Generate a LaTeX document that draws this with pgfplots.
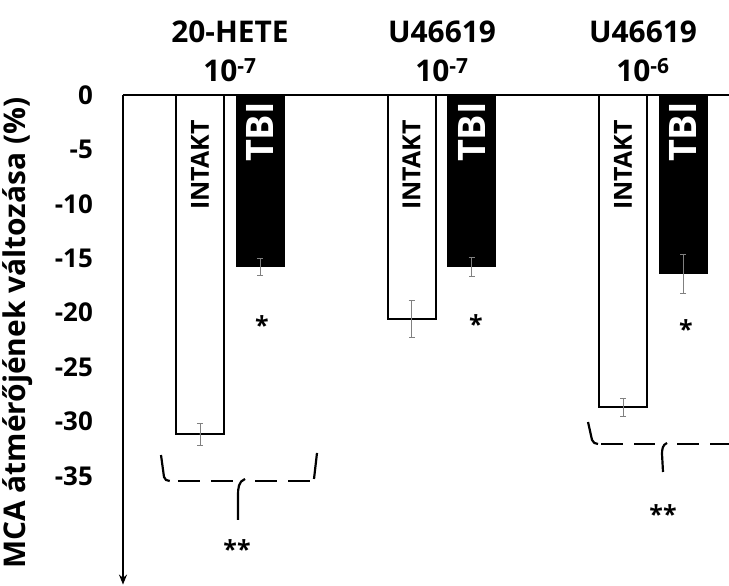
\documentclass[border=0pt]{standalone}
\usepackage{fontspec}
\setmainfont{Open Sans}
\usepackage{pgfplots}
\pgfplotsset{compat=1.18}
\usetikzlibrary{arrows.meta}
\begin{document}
\begin{tikzpicture}
\tikzset{ttl/.style={anchor=base, inner sep=0pt, font=\bfseries\fontsize{30}{30}\selectfont},
  intk/.style={rotate=90, inner sep=0pt, font=\bfseries\fontsize{25}{25}\selectfont},
  tbi/.style={rotate=90, inner sep=0pt, text=white, font=\bfseries\fontsize{38}{38}\selectfont},
  ast/.style={anchor=base, inner sep=0pt, font=\bfseries\fontsize{25}{25}\selectfont},
  brk/.style={line width=2.2pt},
  dsh/.style={line width=2.2pt, dash pattern=on 22bp off 11bp}}
\begin{axis}[
  scale only axis, width=606bp, height=489.6bp,
  xmin=-0.5059, xmax=2.3593, ymin=-45, ymax=0,
  ybar=12bp, bar width=48bp,
  axis line style={draw=none},
  xtick=\empty,
  ytick={0,-5,-10,-15,-20,-25,-30,-35},
  yticklabels={0,-5,-10,-15,-20,-25,-30,-35},
  major tick length=0pt,
  yticklabel style={font=\bfseries\fontsize{26}{26}\selectfont, anchor=east, inner sep=0pt, xshift=-30bp},
  clip=false,
  /pgf/number format/assume math mode=true,
]
\addplot[fill=white, draw=black, line width=2pt,
  error bars/.cd, y dir=both, y explicit,
  error bar style={draw=gray, line width=0.6pt},
  error mark options={rotate=90, mark size=3bp, draw=gray, line width=0.6pt}]
  coordinates {(0,-31.2) +- (0,1.0) (1,-20.6) +- (0,1.7) (2,-28.7) +- (0,0.8)};
\addplot[fill=black, draw=black, line width=1pt,
  error bars/.cd, y dir=both, y explicit,
  error bar style={draw=gray, line width=0.6pt},
  error mark options={rotate=90, mark size=3bp, draw=gray, line width=0.6pt}]
  coordinates {(0,-15.8) +- (0,0.8) (1,-15.8) +- (0,0.85) (2,-16.4) +- (0,1.8)};

\coordinate (bl) at (rel axis cs:0,0);
\coordinate (tr) at (rel axis cs:1,1);

% axis lines
\draw[line width=1.5pt] (axis cs:-0.5059,0) -- (axis cs:2.3593,0);
\draw[line width=1.5pt, -{Stealth[length=10bp,width=8bp]}] (axis cs:-0.5059,0) -- (axis cs:-0.5059,-45);

% titles
\node[ttl] at (axis cs:0,4.87) {20-HETE};
\node[ttl] at (axis cs:0,1.195) {10\textsuperscript{-7}};
\node[ttl] at (axis cs:1.0024,4.87) {U46619};
\node[ttl] at (axis cs:1.0024,1.195) {10\textsuperscript{-7}};
\node[ttl] at (axis cs:1.9527,4.87) {U46619};
\node[ttl] at (axis cs:1.9527,1.195) {10\textsuperscript{-6}};

% bar labels
\node[intk] at (axis cs:-0.1418,-6.43) {INTAKT};
\node[intk] at (axis cs:0.8582,-6.43) {INTAKT};
\node[intk] at (axis cs:1.8582,-6.43) {INTAKT};
\node[tbi] at (axis cs:0.1418,-3.40) {TBI};
\node[tbi] at (axis cs:1.1418,-3.40) {TBI};
\node[tbi] at (axis cs:2.1418,-3.40) {TBI};

% y label
\node[rotate=90, inner sep=0pt, font=\bfseries\fontsize{30}{30}\selectfont] at (axis cs:-1.0024,-21.9) {MCA átmérőjének változása (\%)};

% single asterisks
\node[ast] at (axis cs:0.1513,-22.0) {*};
\node[ast] at (axis cs:1.1631,-21.9) {*};
\node[ast] at (axis cs:2.156,-22.35) {*};
% double asterisks
\node[ast] at (axis cs:0.0331,-42.6) {**};
\node[ast] at (axis cs:2.0473,-39.4) {**};

% bracket 20-HETE
\draw[brk] (axis cs:-0.3262,-33.09) -- (axis cs:-0.3121,-35.1) to[out=-80,in=180] (axis cs:-0.285,-35.478);
\draw[dsh] (axis cs:-0.2459,-35.478) -- (axis cs:0.0142,-35.478);
\draw[dsh] (axis cs:0.1182,-35.478) -- (axis cs:0.3783,-35.478);
\draw[brk] (axis cs:0.0709,-35.29) to[out=200,in=90] (axis cs:0.0378,-36.8) -- (axis cs:0.0378,-39.06);
\draw[brk] (axis cs:0.3972,-35.29) -- (axis cs:0.4113,-32.90);

% bracket U46619 10^-6
\draw[brk] (axis cs:1.6927,-30.055) -- (axis cs:1.7116,-31.7) to[out=-70,in=180] (axis cs:1.740,-32.077);
\draw[dsh] (axis cs:1.7541,-32.077) -- (axis cs:2.0095,-32.077);
\draw[dsh] (axis cs:2.1135,-32.077) -- (axis cs:2.3593,-32.077);
\draw[brk] (axis cs:2.0662,-31.985) to[out=200,in=90] (axis cs:2.0426,-33.0) -- (axis cs:2.0473,-34.65);
\end{axis}
\pgfresetboundingbox
\path ([shift={(-123bp,-1.4bp)}]bl) rectangle ([shift={(0bp,95bp)}]tr);
\end{tikzpicture}
\end{document}
